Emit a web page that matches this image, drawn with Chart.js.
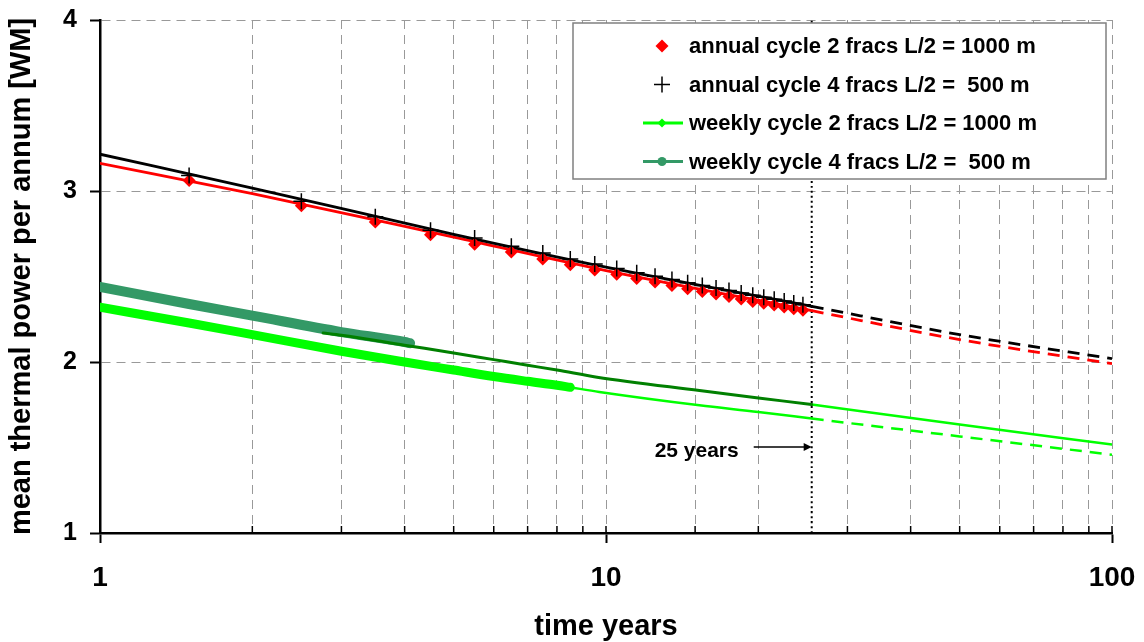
<!DOCTYPE html>
<html>
<head>
<meta charset="utf-8">
<script src="https://cdn.jsdelivr.net/npm/chart.js@4.4.0/dist/chart.umd.min.js"></script>
<style>
  html, body { margin: 0; padding: 0; background: #fff; }
  canvas { display: block; }
</style>
</head>
<body>
<canvas id="chart" width="1144" height="642"></canvas>
<script>
// annual cycle: one marker in the middle of each year
const annualYears = [1.5, 2.5, 3.5, 4.5, 5.5, 6.5, 7.5, 8.5, 9.5, 10.5, 11.5, 12.5,
                     13.5, 14.5, 15.5, 16.5, 17.5, 18.5, 19.5, 20.5, 21.5, 22.5, 23.5, 24.5];
const annual4Marks = [3.09, 2.94, 2.85, 2.77, 2.725, 2.677, 2.637, 2.602, 2.573, 2.547, 2.522, 2.502,
                      2.482, 2.463, 2.448, 2.433, 2.418, 2.403, 2.39, 2.378, 2.367, 2.356, 2.345, 2.335];
const annual2Marks = [3.062, 2.914, 2.818, 2.744, 2.688, 2.643, 2.603, 2.568, 2.538, 2.513, 2.488, 2.468,
                      2.448, 2.428, 2.413, 2.398, 2.383, 2.368, 2.354, 2.343, 2.333, 2.322, 2.312, 2.302];

// fitted curves [year, MW]
const markYear = 25.5;
const annual4Line = [[1, 3.215], [2, 3.017], [5, 2.747], [10, 2.555], [markYear, 2.326]];
const annual4Ext  = [[markYear, 2.326], [50, 2.16], [100, 2.02]];
const annual2Line = [[1, 3.162], [2, 2.985], [5, 2.73], [10, 2.535], [markYear, 2.30]];
const annual2Ext  = [[markYear, 2.30], [50, 2.131], [100, 1.99]];

// weekly cycle, 2 fracs
const weekly2Band = [[1, 2.32], [1.5, 2.228], [2, 2.16], [3, 2.063], [4, 2.0], [5, 1.953],
                     [6, 1.915], [7, 1.887], [8, 1.864], [8.5, 1.852]];
const weekly2Line = [[8.5, 1.852], [9.7, 1.825], [15.3, 1.747], [20, 1.708], [markYear, 1.669]];
const weekly2Ext  = [[markYear, 1.669], [50, 1.565], [100, 1.458]];

// weekly cycle, 4 fracs
const weekly4Band = [[1, 2.439], [1.5, 2.339], [2, 2.271], [3, 2.175], [4, 2.117], [4.1, 2.11]];
const weekly4Line = [[2.76, 2.17], [3, 2.157], [4, 2.098], [5, 2.053], [6, 2.014], [7, 1.981],
                     [8, 1.953], [9.6, 1.911], [15.3, 1.833], [20, 1.79], [markYear, 1.751]];
const weekly4Ext  = [[markYear, 1.751], [50, 1.634], [100, 1.517]];

const yTicks = [1, 2, 3, 4];
const legendLabels = [
  'annual cycle 2 fracs L/2 = 1000 m',
  'annual cycle 4 fracs L/2 =  500 m',
  'weekly cycle 2 fracs L/2 = 1000 m',
  'weekly cycle 4 fracs L/2 =  500 m'
];

const FONT = "'Liberation Sans', Arial, sans-serif";
const RED = '#ff0000', LIME = '#00ff00', TEAL = '#339966', DARK = '#008000';

const pairs = arr => arr.map(p => ({x: p[0], y: p[1]}));
const isDecade = v => Math.abs(Math.log10(v) - Math.round(Math.log10(v))) < 1e-9;

function line(data, color, width, extra) {
  return Object.assign({
    data: pairs(data),
    borderColor: color,
    backgroundColor: color,
    borderWidth: width,
    pointRadius: 0,
    fill: false,
    cubicInterpolationMode: 'monotone',
    borderCapStyle: 'round',
    borderJoinStyle: 'round',
    order: 2
  }, extra || {});
}

// keep the plot box fixed: no extra room for overhanging tick labels
function fixBox(s, size) {
  if (s.isHorizontal()) s.height = size; else s.width = size;
  s.paddingTop = s.paddingBottom = s.paddingLeft = s.paddingRight = 0;
}

// minor ticks point into the plot, like the original
const innerTicks = {
  id: 'innerTicks',
  afterDraw(chart) {
    const {ctx, chartArea} = chart;
    const xs = chart.scales.x;
    ctx.save();
    ctx.strokeStyle = '#000';
    ctx.lineWidth = 1.5;
    xs.ticks.forEach(t => {
      const px = xs.getPixelForValue(t.value);
      ctx.beginPath();
      ctx.moveTo(px, chartArea.bottom);
      ctx.lineTo(px, chartArea.bottom - 7);
      ctx.stroke();
    });
    ctx.restore();
  }
};

// boxed legend + "25 years" arrow
const boxLegend = {
  id: 'boxLegend',
  afterDatasetsDraw(chart) {
    const ctx = chart.ctx;
    const xs = chart.scales.x;
    ctx.save();

    // arrow to the 25 year line
    const tip = xs.getPixelForValue(markYear);
    const ay = 447;
    ctx.strokeStyle = '#000';
    ctx.fillStyle = '#000';
    ctx.lineWidth = 1.5;
    ctx.beginPath();
    ctx.moveTo(tip - 58, ay);
    ctx.lineTo(tip - 6, ay);
    ctx.stroke();
    ctx.beginPath();
    ctx.moveTo(tip, ay);
    ctx.lineTo(tip - 8, ay - 4);
    ctx.lineTo(tip - 8, ay + 4);
    ctx.closePath();
    ctx.fill();
    ctx.font = 'bold 21px ' + FONT;
    ctx.textAlign = 'right';
    ctx.textBaseline = 'middle';
    ctx.fillText('25 years', tip - 73, 451);

    // legend box
    ctx.fillStyle = '#fff';
    ctx.fillRect(573, 23, 533, 156);
    ctx.strokeStyle = '#808080';
    ctx.lineWidth = 1.5;
    ctx.strokeRect(573, 23, 533, 156);

    const mx = 662;
    legendLabels.forEach((label, i) => {
      const y = 46 + i * 38.5;
      if (i === 0) {
        ctx.fillStyle = RED;
        ctx.beginPath();
        ctx.moveTo(mx, y - 6.5); ctx.lineTo(mx + 6.5, y); ctx.lineTo(mx, y + 6.5); ctx.lineTo(mx - 6.5, y);
        ctx.closePath();
        ctx.fill();
      } else if (i === 1) {
        ctx.strokeStyle = '#000';
        ctx.lineWidth = 1.5;
        ctx.beginPath();
        ctx.moveTo(mx - 8, y); ctx.lineTo(mx + 8, y);
        ctx.moveTo(mx, y - 8); ctx.lineTo(mx, y + 8);
        ctx.stroke();
      } else {
        const c = i === 2 ? LIME : TEAL;
        ctx.strokeStyle = c;
        ctx.fillStyle = c;
        ctx.lineWidth = 3;
        ctx.beginPath();
        ctx.moveTo(643, y); ctx.lineTo(683, y);
        ctx.stroke();
        ctx.beginPath();
        if (i === 2) {
          ctx.moveTo(mx, y - 4.5); ctx.lineTo(mx + 4.5, y); ctx.lineTo(mx, y + 4.5); ctx.lineTo(mx - 4.5, y);
          ctx.closePath();
        } else {
          ctx.arc(mx, y, 4.5, 0, Math.PI * 2);
        }
        ctx.fill();
      }
      ctx.fillStyle = '#000';
      ctx.font = 'bold 22px ' + FONT;
      ctx.textAlign = 'left';
      ctx.textBaseline = 'middle';
      ctx.fillText(label, 689, y + 1);
    });
    ctx.restore();
  }
};

new Chart(document.getElementById('chart'), {
  type: 'line',
  data: {
    datasets: [
      // annual markers on top
      {
        data: annualYears.map((x, i) => ({x, y: annual4Marks[i]})),
        showLine: false, pointStyle: 'cross', pointRadius: 8,
        pointBorderColor: '#000', pointBorderWidth: 1.5, order: 0
      },
      {
        data: annualYears.map((x, i) => ({x, y: annual2Marks[i]})),
        showLine: false, pointStyle: 'rectRot', pointRadius: 6.5,
        pointBackgroundColor: RED, pointBorderColor: RED, pointBorderWidth: 0, order: 1
      },
      line(annual4Line, '#000', 2.8),
      line(annual4Ext, '#000', 2.8, {borderDash: [12, 8], borderCapStyle: 'butt'}),
      line(annual2Line, RED, 2.8),
      line(annual2Ext, RED, 2.8, {borderDash: [12, 8], borderCapStyle: 'butt'}),
      // weekly point bands
      line(weekly2Band, LIME, 9, {order: 3}),
      line(weekly4Band, TEAL, 10, {order: 3}),
      line(weekly2Line, LIME, 2.5),
      line(weekly2Ext, LIME, 2.5, {borderDash: [12, 8], borderCapStyle: 'butt'}),
      line(weekly4Line, DARK, 3),
      line(weekly4Ext, LIME, 2.5),
      // 25 year marker
      line([[markYear, 1], [markYear, 4]], '#000', 2, {borderDash: [2, 3], borderCapStyle: 'butt', order: 4})
    ]
  },
  options: {
    responsive: false,
    animation: false,
    events: [],
    layout: { padding: { top: 20, right: 32, left: 0, bottom: 0 } },
    plugins: { legend: { display: false }, tooltip: { enabled: false } },
    scales: {
      x: {
        type: 'logarithmic',
        min: 1,
        max: 100,
        afterFit: s => fixBox(s, 109),
        border: { color: '#000', width: 2.5, dash: [9, 6] },
        grid: {
          color: '#999999', lineWidth: 1, tickLength: 10, tickWidth: 2,
          tickColor: c => (c.tick && isDecade(c.tick.value)) ? '#000' : 'rgba(0,0,0,0)'
        },
        ticks: {
          autoSkip: false, maxRotation: 0, minRotation: 0, padding: 18, color: '#000',
          font: { family: FONT, size: 28, weight: 'bold' },
          callback: v => isDecade(v) ? String(Math.round(v)) : ''
        },
        title: {
          display: true, text: 'time years', color: '#000',
          font: { family: FONT, size: 29, weight: 'bold', lineHeight: 1 },
          padding: { top: 0, bottom: 1 }
        }
      },
      y: {
        min: yTicks[0],
        max: yTicks[yTicks.length - 1],
        afterFit: s => fixBox(s, 100),
        afterBuildTicks: s => { s.ticks = yTicks.map(v => ({value: v})); },
        border: { color: '#000', width: 2.5, dash: [9, 6] },
        grid: { color: '#999999', lineWidth: 1, tickLength: 10, tickWidth: 2, tickColor: '#000' },
        ticks: {
          padding: 13, color: '#000',
          font: { family: FONT, size: 25, weight: 'bold' },
          callback: v => String(v)
        },
        title: {
          display: true, text: 'mean thermal power per annum [WM]', color: '#000',
          font: { family: FONT, size: 29, weight: 'bold', lineHeight: 1.2 },
          padding: { top: 5, bottom: 0 }
        }
      }
    }
  },
  plugins: [innerTicks, boxLegend]
});
</script>
</body>
</html>
